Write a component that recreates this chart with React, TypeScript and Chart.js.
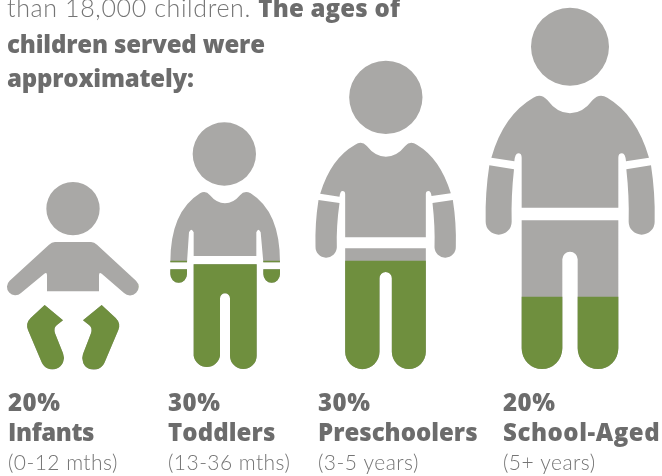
import React, { useEffect, useRef } from "react";
import { Chart, registerables } from "chart.js";

Chart.register(...registerables);

const categories = ["Infants", "Toddlers", "Preschoolers", "School-Aged"];
const shares = [20, 30, 30, 20];
const ageRanges = ["(0-12 mths)", "(13-36 mths)", "(3-5 years)", "(5+ years)"];
const introLight = "than 18,000 children. ";
const introBold = ["The ages of", "children served were", "approximately:"];

const GREY = "#a9a8a6";
const GREEN = "#6f8f3e";
const DARK = "#6c6c6c";
const LIGHT = "#757575";
const HEAVY = '800 24px "Open Sans"';
const THIN = '300 25px Lato';
const SMALL = '300 21px Lato';

const figureCentres = [73, 225, 385.5, 570];
const labelLefts = [8, 168, 318, 503];
const labelTracking = ["-0.4px", "0.1px", "0px", "0.55px"];

// Silhouettes, traced at 3x; each origin is the foot-centre of its outline.
const figures = [
  {
    origin: [219, 597],
    head: [219, 116, 80],
    body: "M165 216 L273 216 Q283 216 291 224 L408 332 A25 25 0 0 1 372 369 L306 312 Q297 304 297 316 L297 364 L141 364 L141 316 Q141 304 132 312 L63 369 A25 25 0 0 1 29 332 L147 224 Q155 216 165 216Z" +
      "M134 405 L189 451 L170 466 Q160 474 165 490 L189 550 A34 34 0 0 1 125 577 L84 480 Q76 460 92 444 Z" +
      "M305 405 L249 451 L268 466 Q278 474 273 490 L249 552 A34 34 0 0 0 314 577 L355 480 Q363 460 347 444 Z",
  },
  {
    origin: [675, 597],
    head: [673, -48, 95],
    body: "M600 70 Q617 60 630 76 Q650 100 675 100 Q700 100 720 76 Q733 60 752 70 Q840 125 840 277 L790 277 L782 187 Q775 172 769 187 L769 258 L581 258 L581 187 Q574 172 567 187 L561 277 L511 277 Q511 125 600 70Z" +
      "M511 298 L561 298 L561 312 A25 26 0 0 1 511 312Z M790 298 L840 298 L840 312 A25 26 0 0 1 790 312Z" +
      "M581 283 H770 V557 A40 40 0 0 1 690 557 V385 A15 15 0 0 0 660 385 V557 A40 40 0 0 1 581 557 Z",
  },
  {
    origin: [256, 957],
    head: [257, 142, 110],
    body: "M165 284 Q184 270 200 288 Q225 320 257 320 Q290 320 315 288 Q330 270 350 284 Q420 325 452 430 L394 438 Q392 423 385 423 Q377 423 377 433 L377 562 L135 562 L135 433 Q135 423 127 423 Q120 423 118 440 L60 431 Q92 325 165 284Z" +
      "M55 450 L118 459 Q108 530 110 592 A32 32 0 0 1 46 590 Q44 520 55 450Z M458 450 L397 459 Q405 530 403 592 A32 32 0 0 0 467 590 Q469 520 458 450Z" +
      "M135 595 H377 V905 A51 52 0 0 1 275 905 V685 A18.5 19 0 0 0 238 685 V905 A51 52 0 0 1 135 905 Z",
  },
  {
    origin: [300, 1107],
    head: [300, 140, 117],
    body: "M190 293 Q212 278 232 300 Q262 340 300 340 Q338 340 368 300 Q388 278 412 293 Q500 345 537 473 L468 484 Q466 460 456 460 Q445 460 445 473 L445 623 L155 623 L155 473 Q155 460 145 460 Q135 460 133 484 L64 473 Q100 345 190 293Z" +
      "M58 496 L132 508 Q123 590 125 665 A39 39 0 0 1 47 665 Q45 580 58 496Z M543 496 L469 508 Q478 590 476 665 A39 39 0 0 0 554 665 Q556 580 543 496Z" +
      "M155 661 H445 V1045 A61 62 0 0 1 323 1045 V778 A23 23 0 0 0 277 778 V1045 A61 62 0 0 1 155 1045 Z",
  },
];

function silhouettes(chart: any) {
  const all = new Path2D();
  const base = chart.scales.y.getPixelForValue(0);
  figures.forEach((f, i) => {
    const cx = chart.scales.x.getPixelForValue(figureCentres[i]);
    const p = new Path2D(f.body);
    const [hx, hy, hr] = f.head;
    p.moveTo(hx + hr, hy);
    p.arc(hx, hy, hr, 0, Math.PI * 2);
    const m = new DOMMatrix().translate(cx, base).scale(1 / 3).translate(-f.origin[0], -f.origin[1]);
    all.addPath(p, m);
  });
  return all;
}

const figurePlugin = {
  id: "figures",
  beforeDatasetsDraw(chart: any) {
    const { ctx } = chart;
    const shape = silhouettes(chart);
    ctx.save();
    ctx.fillStyle = GREY;
    ctx.fill(shape);
    ctx.clip(shape);
  },
  afterDatasetsDraw(chart: any) {
    chart.ctx.restore();
  },
};

const textPlugin = {
  id: "captions",
  afterDraw(chart: any) {
    const { ctx } = chart;
    const put = (s: string, x: number, y: number, font: string, color: string, sp: string) => {
      ctx.font = font;
      ctx.fillStyle = color;
      ctx.letterSpacing = sp;
      ctx.fillText(s, x, y);
      return ctx.measureText(s).width;
    };
    ctx.save();
    ctx.textBaseline = "alphabetic";
    ctx.textAlign = "left";
    const w = put(introLight, 7, 17, THIN, LIGHT, "0.62px");
    put(introBold[0], 7 + w, 17, HEAVY, DARK, "0.2px");
    put(introBold[1], 7, 53, HEAVY, DARK, "-0.15px");
    put(introBold[2], 7, 87, HEAVY, DARK, "-0.2px");
    categories.forEach((c, i) => {
      put(shares[i] + "%", labelLefts[i], 411, HEAVY, DARK, "0.5px");
      put(c, labelLefts[i], 441, HEAVY, DARK, labelTracking[i]);
      put(ageRanges[i], labelLefts[i], 470, SMALL, LIGHT, "0.45px");
    });
    ctx.restore();
  },
};

export default function App() {
  const ref = useRef<HTMLCanvasElement>(null);
  useEffect(() => {
    document.body.style.margin = "0";
    const chart = new Chart(ref.current!, {
      type: "bar",
      data: {
        datasets: [
          {
            label: "Share of children served",
            data: shares.map((v, i) => ({ x: figureCentres[i], y: v })),
            backgroundColor: GREEN,
            borderWidth: 0,
            barThickness: 172,
            clip: false,
          },
        ],
      } as any,
      options: {
        responsive: false,
        animation: false,
        layout: { padding: { top: 9, bottom: 107, left: 0, right: 0 } },
        plugins: { legend: { display: false }, tooltip: { enabled: false }, title: { display: false } },
        scales: {
          x: { type: "linear", min: 0, max: 662, display: false, offset: false },
          y: { type: "linear", min: 0, max: 100, display: false },
        },
      },
      plugins: [figurePlugin, textPlugin],
    });
    return () => chart.destroy();
  }, []);
  return <canvas ref={ref} width={662} height={476} style={{ display: "block" }} />;
}
